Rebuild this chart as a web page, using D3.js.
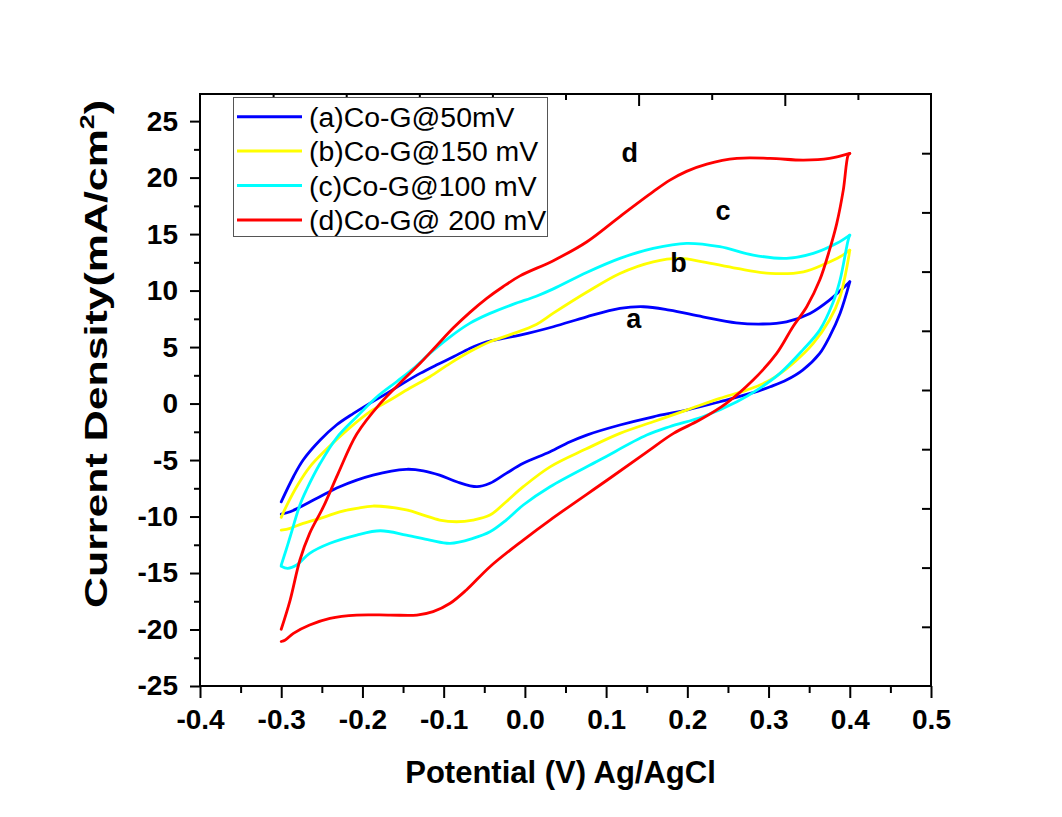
<!DOCTYPE html>
<html><head><meta charset="utf-8">
<script src="https://cdn.jsdelivr.net/npm/d3@7/dist/d3.min.js"></script>
<style>body{margin:0;background:#fff}svg{display:block}</style>
</head><body>
<svg id="c" width="1062" height="817"></svg>
<script>
// ---- tick values ----
const xTicks = [-0.4,-0.3,-0.2,-0.1,0.0,0.1,0.2,0.3,0.4,0.5];
const xMinor = [-0.35,-0.25,-0.15,-0.05,0.05,0.15,0.25,0.35,0.45];
const yTicks = [-25,-20,-15,-10,-5,0,5,10,15,20,25];
const yMinor = [-22.5,-17.5,-12.5,-7.5,-2.5,2.5,7.5,12.5,17.5,22.5];

// ---- series labels / colors ----
const labels = ["(a)Co-G@50mV","(b)Co-G@150 mV","(c)Co-G@100 mV","(d)Co-G@ 200 mV"];
const colors = ["#0000ff","#ffff00","#00ffff","#ff0000"];

// ---- data: [potential V, current density mA/cm2] ----
const aUpper = [[-0.300,-8.70],[-0.285,-6.48],[-0.273,-5.00],[-0.252,-3.23],[-0.232,-1.90],[-0.211,-0.87],[-0.191,0.02],[-0.170,0.90],[-0.150,1.79],[-0.129,2.67],[-0.109,3.41],[-0.088,4.14],[-0.068,4.88],[-0.047,5.47],[-0.027,5.77],[-0.006,6.06],[0.035,6.80],[0.076,7.68],[0.117,8.42],[0.146,8.57],[0.178,8.27],[0.219,7.68],[0.260,7.15],[0.293,7.04],[0.322,7.24],[0.351,7.98],[0.375,9.16],[0.400,10.78]];
const aLower = [[0.400,10.78],[0.388,7.98],[0.375,5.91],[0.363,4.44],[0.342,2.96],[0.322,2.08],[0.302,1.49],[0.281,0.96],[0.240,0.16],[0.199,-0.58],[0.158,-1.17],[0.117,-1.90],[0.076,-2.79],[0.055,-3.41],[0.031,-4.27],[-0.002,-5.29],[-0.023,-6.18],[-0.043,-7.06],[-0.059,-7.36],[-0.084,-6.92],[-0.105,-6.33],[-0.125,-5.95],[-0.146,-5.82],[-0.187,-6.33],[-0.228,-7.36],[-0.256,-8.39],[-0.289,-9.58],[-0.300,-9.78]];

const bUpper = [[-0.300,-10.07],[-0.293,-8.98],[-0.279,-7.12],[-0.265,-5.62],[-0.244,-4.03],[-0.219,-2.35],[-0.191,-0.73],[-0.166,0.31],[-0.142,1.35],[-0.117,2.37],[-0.092,3.56],[-0.068,4.58],[-0.043,5.47],[-0.018,6.10],[0.014,7.00],[0.035,8.00],[0.076,9.85],[0.117,11.52],[0.158,12.55],[0.191,12.85],[0.219,12.55],[0.261,11.96],[0.302,11.52],[0.343,11.66],[0.371,12.41],[0.388,12.99],[0.400,13.58]];
const bLower = [[0.400,13.58],[0.398,12.70],[0.388,9.45],[0.375,7.39],[0.355,5.33],[0.330,3.56],[0.302,2.08],[0.273,1.19],[0.240,0.46],[0.199,-0.58],[0.158,-1.61],[0.117,-2.64],[0.075,-4.03],[0.031,-5.60],[-0.002,-7.36],[-0.023,-8.69],[-0.043,-9.87],[-0.064,-10.31],[-0.084,-10.46],[-0.105,-10.31],[-0.125,-9.87],[-0.146,-9.42],[-0.187,-9.07],[-0.207,-9.27],[-0.228,-9.58],[-0.248,-10.07],[-0.273,-10.60],[-0.289,-11.04],[-0.300,-11.20]];

const cUpper = [[-0.300,-14.30],[-0.294,-12.96],[-0.289,-11.79],[-0.277,-8.98],[-0.269,-7.65],[-0.252,-5.29],[-0.232,-3.05],[-0.207,-1.17],[-0.182,0.60],[-0.158,1.93],[-0.137,3.12],[-0.117,4.44],[-0.092,5.91],[-0.068,7.10],[-0.043,7.98],[-0.014,8.80],[0.014,9.50],[0.035,10.15],[0.076,11.60],[0.117,12.85],[0.158,13.73],[0.199,14.18],[0.240,13.88],[0.281,13.14],[0.322,12.85],[0.355,13.29],[0.384,14.18],[0.400,14.91]];
const cLower = [[0.400,14.91],[0.398,14.47],[0.388,10.93],[0.379,8.87],[0.363,6.50],[0.342,4.73],[0.314,2.67],[0.289,1.35],[0.261,0.16],[0.219,-1.17],[0.178,-2.05],[0.150,-2.79],[0.092,-5.00],[0.031,-7.36],[-0.002,-8.98],[-0.023,-10.31],[-0.043,-11.35],[-0.064,-11.93],[-0.092,-12.37],[-0.117,-12.08],[-0.146,-11.64],[-0.178,-11.26],[-0.207,-11.64],[-0.240,-12.37],[-0.265,-13.26],[-0.281,-14.29],[-0.292,-14.58],[-0.300,-14.40]];

const dUpper = [[-0.300,-19.98],[-0.289,-17.39],[-0.277,-13.85],[-0.265,-11.49],[-0.248,-9.13],[-0.230,-6.20],[-0.207,-2.70],[-0.178,0.02],[-0.150,2.08],[-0.129,3.56],[-0.109,5.10],[-0.088,6.70],[-0.068,8.05],[-0.047,9.31],[-0.027,10.34],[-0.006,11.30],[0.035,12.65],[0.076,14.30],[0.117,16.55],[0.158,18.75],[0.178,19.75],[0.199,20.55],[0.224,21.20],[0.261,21.70],[0.302,21.70],[0.343,21.55],[0.375,21.70],[0.400,22.14]];
const dLower = [[0.400,22.14],[0.398,21.99],[0.392,18.89],[0.384,15.95],[0.375,13.58],[0.363,10.93],[0.347,8.57],[0.330,6.80],[0.310,4.44],[0.281,2.08],[0.248,0.02],[0.215,-1.46],[0.183,-2.64],[0.150,-4.30],[0.105,-6.59],[0.031,-10.31],[-0.002,-12.08],[-0.043,-14.44],[-0.072,-16.50],[-0.092,-17.68],[-0.113,-18.42],[-0.133,-18.72],[-0.166,-18.72],[-0.207,-18.72],[-0.240,-19.01],[-0.265,-19.60],[-0.285,-20.34],[-0.295,-20.93],[-0.300,-21.06]];

const seriesBranches = [[aUpper,aLower],[bUpper,bLower],[cUpper,cLower],[dUpper,dLower]];
const curveLabels = ["a","b","c","d"];
const curveLabelPos = [[0.134,6.7],[0.189,11.65],[0.244,16.25],[0.129,21.4]];

// ---- layout ----
const L=200,R=931,T=94,B=686;
const FONT = "Arial, 'Liberation Sans', Helvetica, sans-serif";
const svg = d3.select('#c').style('font-family', FONT);
svg.append('rect').attr('width',1062).attr('height',817).attr('fill','#fff');

const x = d3.scaleLinear().domain([-0.4,0.5]).range([L,R]);
const y = d3.scaleLinear().domain([-25,27.4]).range([B,T]);

function styleAxis(g){
  g.select('.domain').remove();
  g.selectAll('.tick line').attr('stroke','#000').attr('stroke-width',2);
}

// bottom axis
const gx = svg.append('g').attr('transform',`translate(0,${B})`)
  .call(d3.axisBottom(x).tickValues(xTicks).tickSize(12).tickPadding(11).tickFormat(d=>d.toFixed(1)));
styleAxis(gx);
gx.selectAll('text').attr('font-size',28).attr('font-weight','bold').attr('fill','#000').attr('font-family',FONT);
const gxm = svg.append('g').attr('transform',`translate(0,${B})`)
  .call(d3.axisBottom(x).tickValues(xMinor).tickSize(7).tickFormat(''));
styleAxis(gxm);

// left axis
const gy = svg.append('g').attr('transform',`translate(${L},0)`)
  .call(d3.axisLeft(y).tickValues(yTicks).tickSize(10).tickPadding(12).tickFormat(d=>String(d)));
styleAxis(gy);
gy.selectAll('text').attr('font-size',28).attr('font-weight','bold').attr('fill','#000').attr('font-family',FONT);
const gym = svg.append('g').attr('transform',`translate(${L},0)`)
  .call(d3.axisLeft(y).tickValues(yMinor).tickSize(6).tickFormat(''));
styleAxis(gym);

// top (mirror) axis, inward ticks
const xt = d3.scaleLinear().domain([0,5]).range([L,R]);
const gt = svg.append('g').attr('transform',`translate(0,${T})`)
  .call(d3.axisBottom(xt).tickValues([1,2,3,4]).tickSize(12).tickFormat(''));
styleAxis(gt);
const gtm = svg.append('g').attr('transform',`translate(0,${T})`)
  .call(d3.axisBottom(xt).tickValues([0.5,1.5,2.5,3.5,4.5]).tickSize(6).tickFormat(''));
styleAxis(gtm);

// right (mirror) axis, inward ticks
const yr = d3.scaleLinear().domain([0,10]).range([T,B]);
const gr = svg.append('g').attr('transform',`translate(${R},0)`)
  .call(d3.axisLeft(yr).tickValues([1,2,3,4,5,6,7,8,9]).tickSize(9).tickFormat(''));
styleAxis(gr);

// frame
svg.append('rect').attr('x',L).attr('y',T).attr('width',R-L).attr('height',B-T)
  .attr('fill','none').attr('stroke','#000').attr('stroke-width',2);

// curves
const line = d3.line().x(d=>x(d[0])).y(d=>y(d[1])).curve(d3.curveCatmullRom.alpha(0.5));
seriesBranches.forEach((br,i)=>{
  br.forEach(pts=>{
    svg.append('path').datum(pts).attr('d',line)
      .attr('fill','none').attr('stroke',colors[i]).attr('stroke-width',2.8)
      .attr('stroke-linejoin','round').attr('stroke-linecap','round');
  });
});

// curve letters
curveLabels.forEach((t,i)=>{
  svg.append('text').attr('x',x(curveLabelPos[i][0])).attr('y',y(curveLabelPos[i][1]))
    .attr('text-anchor','middle').attr('font-size',27).attr('font-weight','bold').text(t);
});

// legend
const lg = svg.append('g');
lg.append('rect').attr('x',233.5).attr('y',97.5).attr('width',314).attr('height',139)
  .attr('fill','#fff').attr('stroke','#555').attr('stroke-width',1);
labels.forEach((t,i)=>{
  const cy = 116.7 + i*34.4;
  lg.append('line').attr('x1',237).attr('x2',302).attr('y1',cy).attr('y2',cy)
    .attr('stroke',colors[i]).attr('stroke-width',3);
  lg.append('text').attr('x',309).attr('y',cy+10).attr('font-size',28.4).attr('fill','#000').text(t);
});

// axis titles
svg.append('text').attr('x',560.5).attr('y',783).attr('text-anchor','middle')
  .attr('font-size',31).attr('font-weight','bold').text('Potential (V) Ag/AgCl');
const yt = svg.append('text').attr('transform','translate(107,354) rotate(-90) scale(1.34,1)')
  .attr('text-anchor','middle').attr('font-size',32).attr('font-weight','bold');
yt.append('tspan').text('Current Density(mA/cm');
yt.append('tspan').attr('font-size',20).attr('dy',-13).text('2');
yt.append('tspan').attr('dy',13).text(')');
</script>
</body></html>
